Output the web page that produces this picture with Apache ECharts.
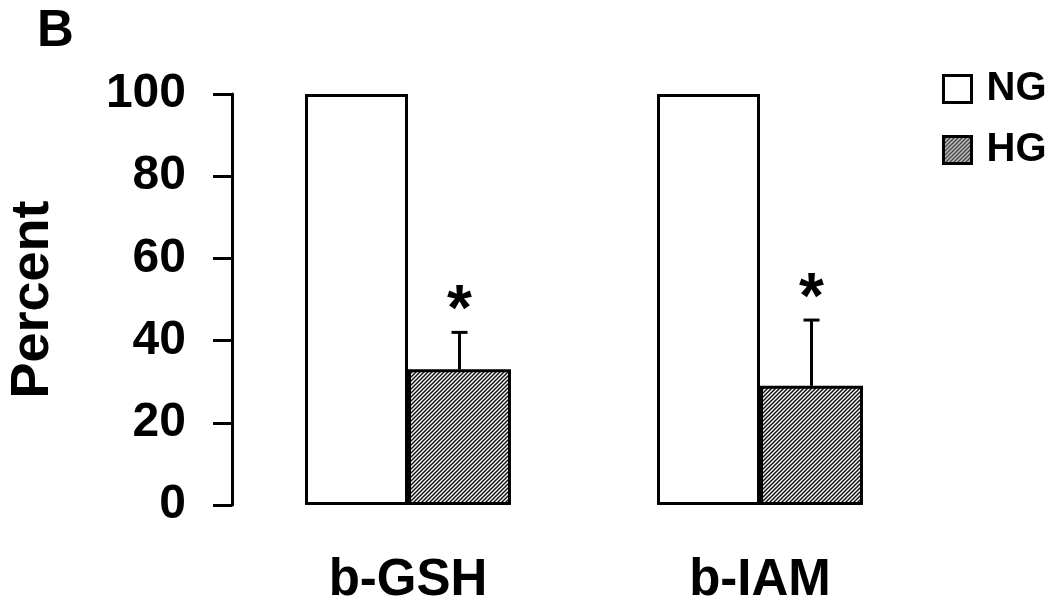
<!DOCTYPE html>
<html>
<head>
<meta charset="utf-8">
<script src="https://cdn.jsdelivr.net/npm/echarts@6/dist/echarts.min.js"></script>
<style>
html,body{margin:0;padding:0;background:#fff;}
#chart{width:1063px;height:604px;}
</style>
</head>
<body>
<div id="chart"></div>
<script>
var categories = ['b-GSH', 'b-IAM'];
var ngValues = [100, 100];
var hgValues = [33, 29];
var hgErrors = [9, 16];
var significance = ['*', '*'];
var yTicks = [0, 20, 40, 60, 80, 100];

var FONT = 'Liberation Sans, Arial, sans-serif';
var BAR_W = 103;

function hatch() {
  var c = document.createElement('canvas');
  c.width = 4; c.height = 4;
  var g = c.getContext('2d');
  g.fillStyle = '#fff';
  g.fillRect(0, 0, 4, 4);
  g.strokeStyle = '#111';
  g.lineWidth = 1.5;
  g.beginPath();
  g.moveTo(-1, 5); g.lineTo(5, -1);
  g.moveTo(-1, 1); g.lineTo(1, -1);
  g.moveTo(3, 5); g.lineTo(5, 3);
  g.stroke();
  return c;
}
var hatchPattern = { image: hatch(), repeat: 'repeat' };

var errData = categories.map(function (c, i) { return [i, hgValues[i], hgErrors[i], significance[i]]; });

var chart = echarts.init(document.getElementById('chart'), null, { renderer: 'canvas' });
chart.setOption({
  animation: false,
  backgroundColor: '#fff',
  title: {
    text: 'B', left: 32, top: 1,
    textStyle: { fontFamily: FONT, fontWeight: 'bold', fontSize: 51, color: '#000' }
  },
  legend: {
    orient: 'vertical', left: 937, top: 64,
    itemWidth: 28, itemHeight: 27, itemGap: 21,
    textStyle: { fontFamily: FONT, fontWeight: 'bold', fontSize: 40, color: '#000', padding: [0, 0, 0, 10] },
    data: [
      { name: 'NG', icon: 'rect', itemStyle: { color: '#fff', borderColor: '#000', borderWidth: 3 } },
      { name: 'HG', icon: 'rect', itemStyle: { color: hatchPattern, borderColor: '#000', borderWidth: 3 } }
    ]
  },
  grid: { left: 232, right: 127, top: 94, bottom: 99, containLabel: false, outerBoundsMode: 'none' },
  xAxis: {
    type: 'category', data: categories,
    axisLine: { show: false }, axisTick: { show: false },
    axisLabel: { fontFamily: FONT, fontWeight: 'bold', fontSize: 51, color: '#000', margin: 50 }
  },
  yAxis: {
    type: 'value', min: 0, max: 100, interval: 20,
    name: 'Percent', nameLocation: 'middle', nameRotate: 90, nameGap: 172,
    nameTextStyle: { fontFamily: FONT, fontWeight: 'bold', fontSize: 54, color: '#000' },
    axisLine: { show: true, lineStyle: { color: '#000', width: 3 } },
    axisTick: { show: true, length: 19, lineStyle: { color: '#000', width: 3 } },
    splitLine: { show: false },
    axisLabel: {
      fontFamily: FONT, fontWeight: 'bold', fontSize: 48, color: '#000', margin: 46,
      formatter: function (v) { return yTicks.indexOf(v) >= 0 ? String(v) : ''; }
    }
  },
  series: [
    {
      name: 'NG', type: 'bar', data: ngValues, barWidth: BAR_W, barGap: '0%',
      itemStyle: { color: '#fff', borderColor: '#000', borderWidth: 3 }
    },
    {
      name: 'HG', type: 'bar', data: hgValues, barWidth: BAR_W, barGap: '0%',
      itemStyle: { color: hatchPattern, borderColor: '#000', borderWidth: 3 }
    },
    {
      name: 'err', type: 'custom', data: errData, z: 5,
      renderItem: function (params, api) {
        var i = api.value(0), v = api.value(1), e = api.value(2);
        var base = api.coord([i, v]);
        var top = api.coord([i, v + e]);
        var x = base[0] + BAR_W / 2;
        var star = errData[params.dataIndex][3];
        return {
          type: 'group',
          children: [
            { type: 'line', shape: { x1: x, y1: base[1], x2: x, y2: top[1] }, style: { stroke: '#000', lineWidth: 3 } },
            { type: 'line', shape: { x1: x - 8, y1: top[1], x2: x + 8, y2: top[1] }, style: { stroke: '#000', lineWidth: 3 } },
            { type: 'text', x: x, y: top[1] - 20, style: { text: star, fontFamily: FONT, fontWeight: 'bold', fontSize: 64, fill: '#000', align: 'center', verticalAlign: 'middle' } }
          ]
        };
      }
    }
  ]
});
</script>
</body>
</html>
